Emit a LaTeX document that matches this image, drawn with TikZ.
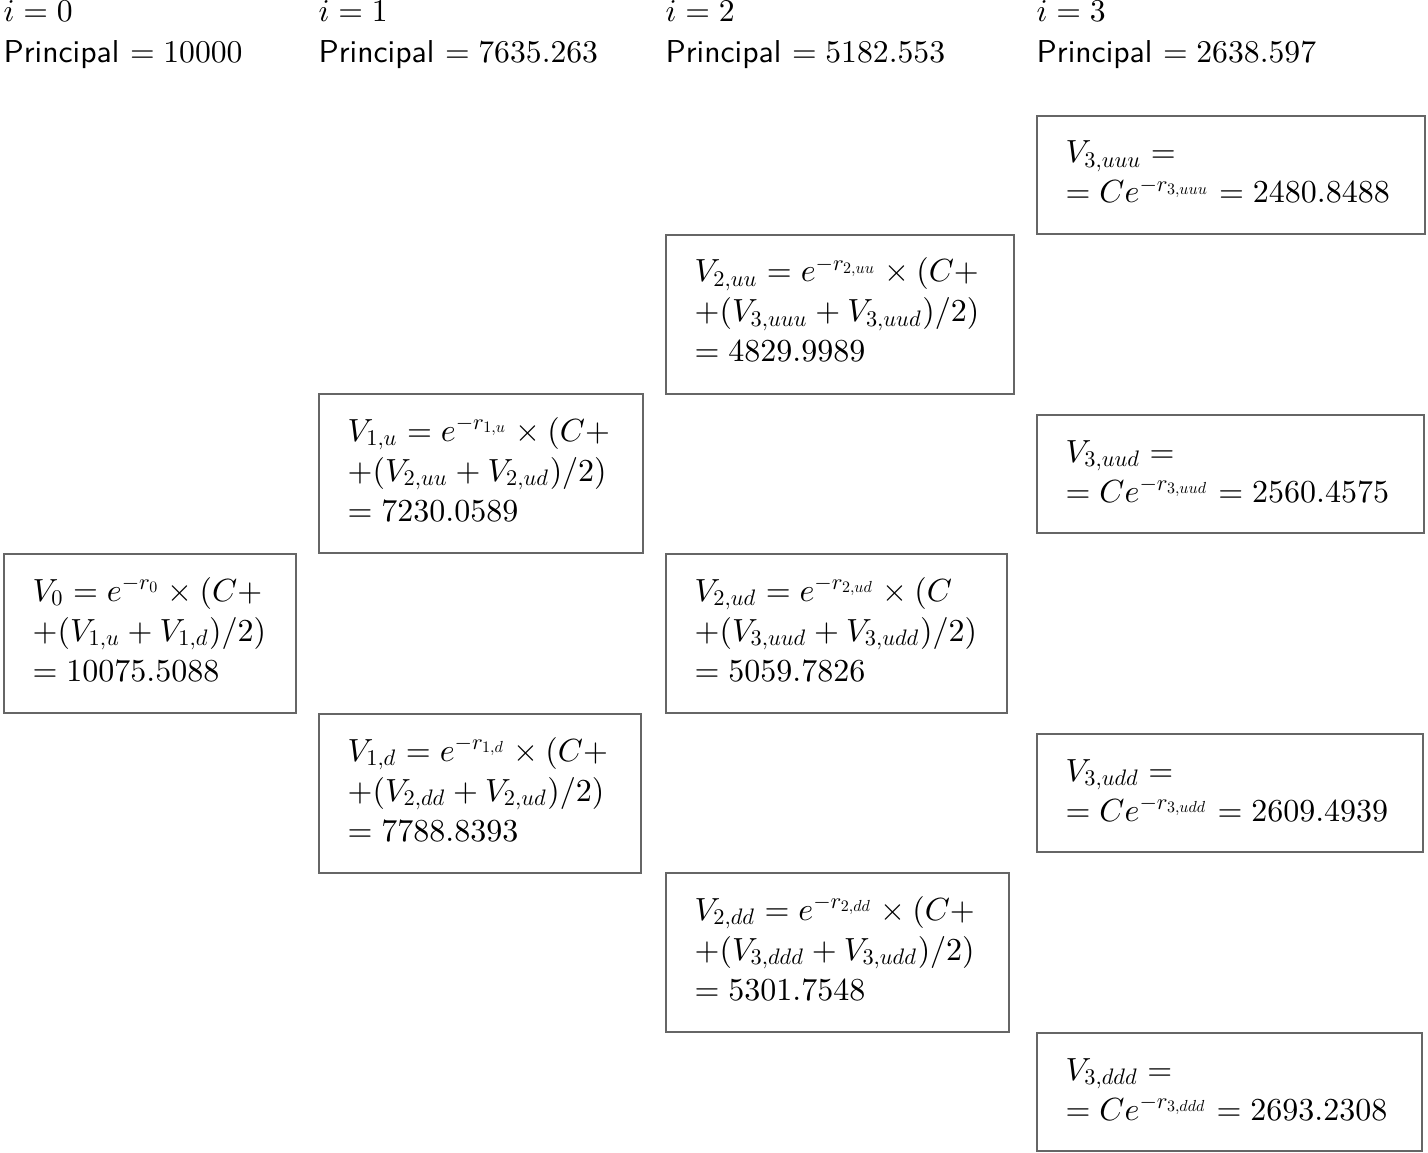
\documentclass[tikz,border=0pt]{standalone}
\usepackage{amsmath}
\DeclareFontShape{OT1}{cmr}{m}{n}{<->cmr10}{}
\DeclareFontShape{OML}{cmm}{m}{it}{<->cmmi10}{}
\DeclareFontShape{OMS}{cmsy}{m}{n}{<->cmsy10}{}
\begin{document}
\begin{tikzpicture}[x=0.3pt,y=-0.3pt,
  valbox/.style={draw=black!60, line width=0.5pt, anchor=north west, inner sep=0pt},
  box3/.style={valbox, minimum height=159*0.3pt},
  box2/.style={valbox, minimum height=118*0.3pt},
  valtext/.style={anchor=base west, inner sep=0pt, align=left, text width=420*0.3pt,
    font=\fontsize{9.6}{12}\selectfont},
  hdr/.style={anchor=base west, inner sep=0pt, font=\fontsize{9.5}{12}\selectfont}]
\useasboundingbox (0,0) rectangle (1428,1152);
% headers
\node[hdr] (h0i) at (3,22) {$i=0$};
\node[hdr] (h0p) at (3,63) {\textsf{Principal} $=10000$};
\node[hdr] (h1i) at (318,22) {$i=1$};
\node[hdr] (h1p) at (318,63) {\textsf{Principal} $=7635.263$};
\node[hdr] (h2i) at (665,22) {$i=2$};
\node[hdr] (h2p) at (665,63) {\textsf{Principal} $=5182.553$};
\node[hdr] (h3i) at (1036,22) {$i=3$};
\node[hdr] (h3p) at (1036,63) {\textsf{Principal} $=2638.597$};
% column 0
\node[box3, minimum width=292*0.3pt] (v0) at (3,553) {};
\node[valtext] (v0t) at (32,601) {$V_0 = e^{-r_0}\times (C+$\\ $+(V_{1,u}+V_{1,d})/2)$\\ $=10075.5088$};
% column 1
\node[box3, minimum width=324*0.3pt] (v1u) at (318,393) {};
\node[valtext] (v1ut) at (347,441) {$V_{1,u} = e^{-r_{1,u}}\times (C+$\\ $+(V_{2,uu}+V_{2,ud})/2)$\\ $=7230.0589$};
\node[box3, minimum width=322*0.3pt] (v1d) at (318,713) {};
\node[valtext] (v1dt) at (347,761) {$V_{1,d} = e^{-r_{1,d}}\times (C+$\\ $+(V_{2,dd}+V_{2,ud})/2)$\\ $=7788.8393$};
% column 2
\node[box3, minimum width=348*0.3pt] (v2uu) at (665,234) {};
\node[valtext] (v2uut) at (694,282) {$V_{2,uu} = e^{-r_{2,uu}}\times (C+$\\ $+(V_{3,uuu}+V_{3,uud})/2)$\\ $=4829.9989$};
\node[box3, minimum width=341*0.3pt] (v2ud) at (665,553) {};
\node[valtext] (v2udt) at (694,601) {$V_{2,ud} = e^{-r_{2,ud}}\times (C$\\ $+(V_{3,uud}+V_{3,udd})/2)$\\ $=5059.7826$};
\node[box3, minimum width=343*0.3pt] (v2dd) at (665,872) {};
\node[valtext] (v2ddt) at (694,920) {$V_{2,dd} = e^{-r_{2,dd}}\times (C+$\\ $+(V_{3,ddd}+V_{3,udd})/2)$\\ $=5301.7548$};
% column 3
\node[box2, minimum width=388*0.3pt] (v3uuu) at (1036,115) {};
\node[valtext] (v3uuut) at (1065,163) {$V_{3,uuu} =$\\ $=Ce^{-r_{3,uuu}}=2480.8488$};
\node[box2, minimum width=387*0.3pt] (v3uud) at (1036,414) {};
\node[valtext] (v3uudt) at (1065,462) {$V_{3,uud} =$\\ $=Ce^{-r_{3,uud}}=2560.4575$};
\node[box2, minimum width=386*0.3pt] (v3udd) at (1036,733) {};
\node[valtext] (v3uddt) at (1065,781) {$V_{3,udd} =$\\ $=Ce^{-r_{3,udd}}=2609.4939$};
\node[box2, minimum width=385*0.3pt] (v3ddd) at (1036,1032) {};
\node[valtext] (v3dddt) at (1065,1080) {$V_{3,ddd} =$\\ $=Ce^{-r_{3,ddd}}=2693.2308$};
\end{tikzpicture}
\end{document}
